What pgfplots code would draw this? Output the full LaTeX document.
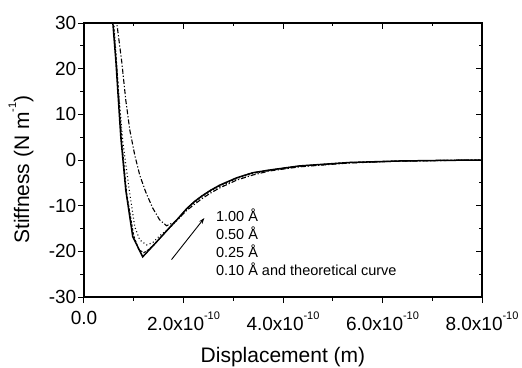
\documentclass[border=0pt]{standalone}
\usepackage{fontspec}
\setmainfont{Liberation Sans}
\usepackage{pgfplots}
\pgfplotsset{compat=1.18}
\usetikzlibrary{arrows.meta}
\newcommand{\supx}[1]{\raisebox{0.62em}{\fontsize{11}{11}\selectfont #1}}
\begin{document}
\begin{tikzpicture}
\begin{axis}[
  name=main,
  scale only axis, width=398pt, height=274pt,
  xmin=0, xmax=8, ymin=-30, ymax=30,
  axis line style={line width=1.1pt},
  xtick={0,2,4,6,8}, minor xtick={1,3,5,7},
  xticklabels={0.0, 2.0x10\supx{-10}, 4.0x10\supx{-10}, 6.0x10\supx{-10}, 8.0x10\supx{-10}},
  ytick={-30,-20,...,30}, minor ytick={-25,-15,...,25},
  tick align=outside, xtick pos=bottom, ytick pos=left,
  major tick length=6pt, minor tick length=3.5pt,
  every tick/.style={black, line width=1pt},
  /pgf/number format/assume math mode=true,
  tick label style={font=\fontsize{19}{22}\selectfont},
  xticklabel style={yshift=-5pt},
  yticklabel style={inner sep=1.5pt},
  xlabel={Displacement (m)},
  ylabel={Stiffness (N m\supx{-1})},
  label style={font=\fontsize{21}{24}\selectfont},
  xlabel style={at={(axis description cs:0.5,-0.24)}, anchor=base},
  ylabel style={at={(axis description cs:-0.158,0.465)}, anchor=center},
]
% 1.00 A (dash-dot)
\addplot[black, line width=1.1pt, dash pattern=on 5pt off 2pt on 1.2pt off 2pt] coordinates {
(0.60,35.5) (0.66,29.9) (0.76,21.4) (0.84,13.1) (0.92,6.6) (1.02,1.1) (1.12,-3.3)
(1.24,-7.0) (1.38,-10.5) (1.52,-13.1) (1.66,-14.4) (1.82,-13.6) (1.94,-12.4) (2.06,-11.1)
(2.22,-9.7) (2.38,-8.4) (2.55,-7.2) (2.73,-6.1) (3.07,-4.4) (3.39,-3.3) (3.73,-2.4) (4.33,-1.5)
(5.33,-0.65) (6.33,-0.26) (7.33,-0.09) (8.0,0)
};
% 0.50 A (dotted)
\addplot[black, line width=1.1pt, dash pattern=on 1pt off 2.5pt] coordinates {
(0.54,40) (0.60,30) (0.68,16.8) (0.78,4) (0.91,-6.6) (1.02,-14.6) (1.12,-17.5)
(1.26,-18.6) (1.38,-18.1) (1.52,-16.6) (1.72,-14.9) (1.90,-12.9) (2.06,-10.9) (2.22,-9.3) (2.38,-8.0)
(2.55,-6.8) (2.73,-5.8) (3.07,-4.1) (3.39,-3.0) (3.73,-2.3) (4.33,-1.4) (5.33,-0.6)
(6.33,-0.24) (7.33,-0.08) (8.0,0)
};
% 0.25 A (dashed)
\addplot[black, line width=1pt, dash pattern=on 2.5pt off 1.5pt] coordinates {
(0.53,40) (0.59,30) (0.66,20.5) (0.76,4) (0.86,-7.5) (1.00,-16.6) (1.10,-19.6)
(1.20,-20.3) (1.30,-19.6) (1.42,-18.4) (1.72,-14.8) (1.90,-12.7) (2.06,-10.7) (2.22,-9.1) (2.38,-7.8)
(2.55,-6.6) (2.73,-5.6) (3.07,-3.9) (3.39,-2.8) (3.73,-2.2) (4.33,-1.3) (5.33,-0.55)
(6.33,-0.22) (7.33,-0.07) (8.0,0)
};
% 0.10 A and theoretical curve (solid)
\addplot[black, line width=1.5pt] coordinates {
(0.52,39) (0.58,30) (0.64,21.8) (0.74,5) (0.84,-6.6) (0.98,-16.8) (1.18,-21.2)
(1.42,-18.4) (1.72,-14.8) (1.90,-12.7) (2.06,-10.7) (2.22,-9.1) (2.38,-7.8) (2.55,-6.6) (2.73,-5.5) (3.07,-3.9)
(3.39,-2.8) (3.73,-2.2) (4.33,-1.3) (5.33,-0.55) (6.33,-0.22) (7.33,-0.07) (8.0,0)
};
\draw[line width=0.9pt, -{Stealth[length=6pt,width=4pt]}] (axis cs:1.76,-21.8) -- (axis cs:2.42,-12.7);
\node[anchor=base west, inner sep=0, font=\fontsize{14.5}{17}\selectfont] at (axis cs:2.65,-13.36) {1.00 Å};
\node[anchor=base west, inner sep=0, font=\fontsize{14.5}{17}\selectfont] at (axis cs:2.65,-17.36) {0.50 Å};
\node[anchor=base west, inner sep=0, font=\fontsize{14.5}{17}\selectfont] at (axis cs:2.65,-21.36) {0.25 Å};
\node[anchor=base west, inner sep=0, font=\fontsize{14.5}{17}\selectfont] at (axis cs:2.65,-25.36) {0.10 Å and theoretical curve};
\end{axis}
\begin{axis}[
  scale only axis, width=398pt, height=274pt,
  xmin=0, xmax=8, ymin=-30, ymax=30,
  axis line style={draw=none},
  xtick={0,2,4,6,8}, minor xtick={1,3,5,7},
  ytick={-30,-20,...,30}, minor ytick={-25,-15,...,25},
  tick align=inside, xtick pos=top, ytick pos=right,
  major tick length=6pt, minor tick length=3.5pt,
  every tick/.style={black, line width=1pt},
  xticklabels={}, yticklabels={},
]
\end{axis}
\pgfresetboundingbox
\path (main.south west) ++(-84pt,-70pt) rectangle ++(522pt,367pt);
\end{tikzpicture}
\end{document}
